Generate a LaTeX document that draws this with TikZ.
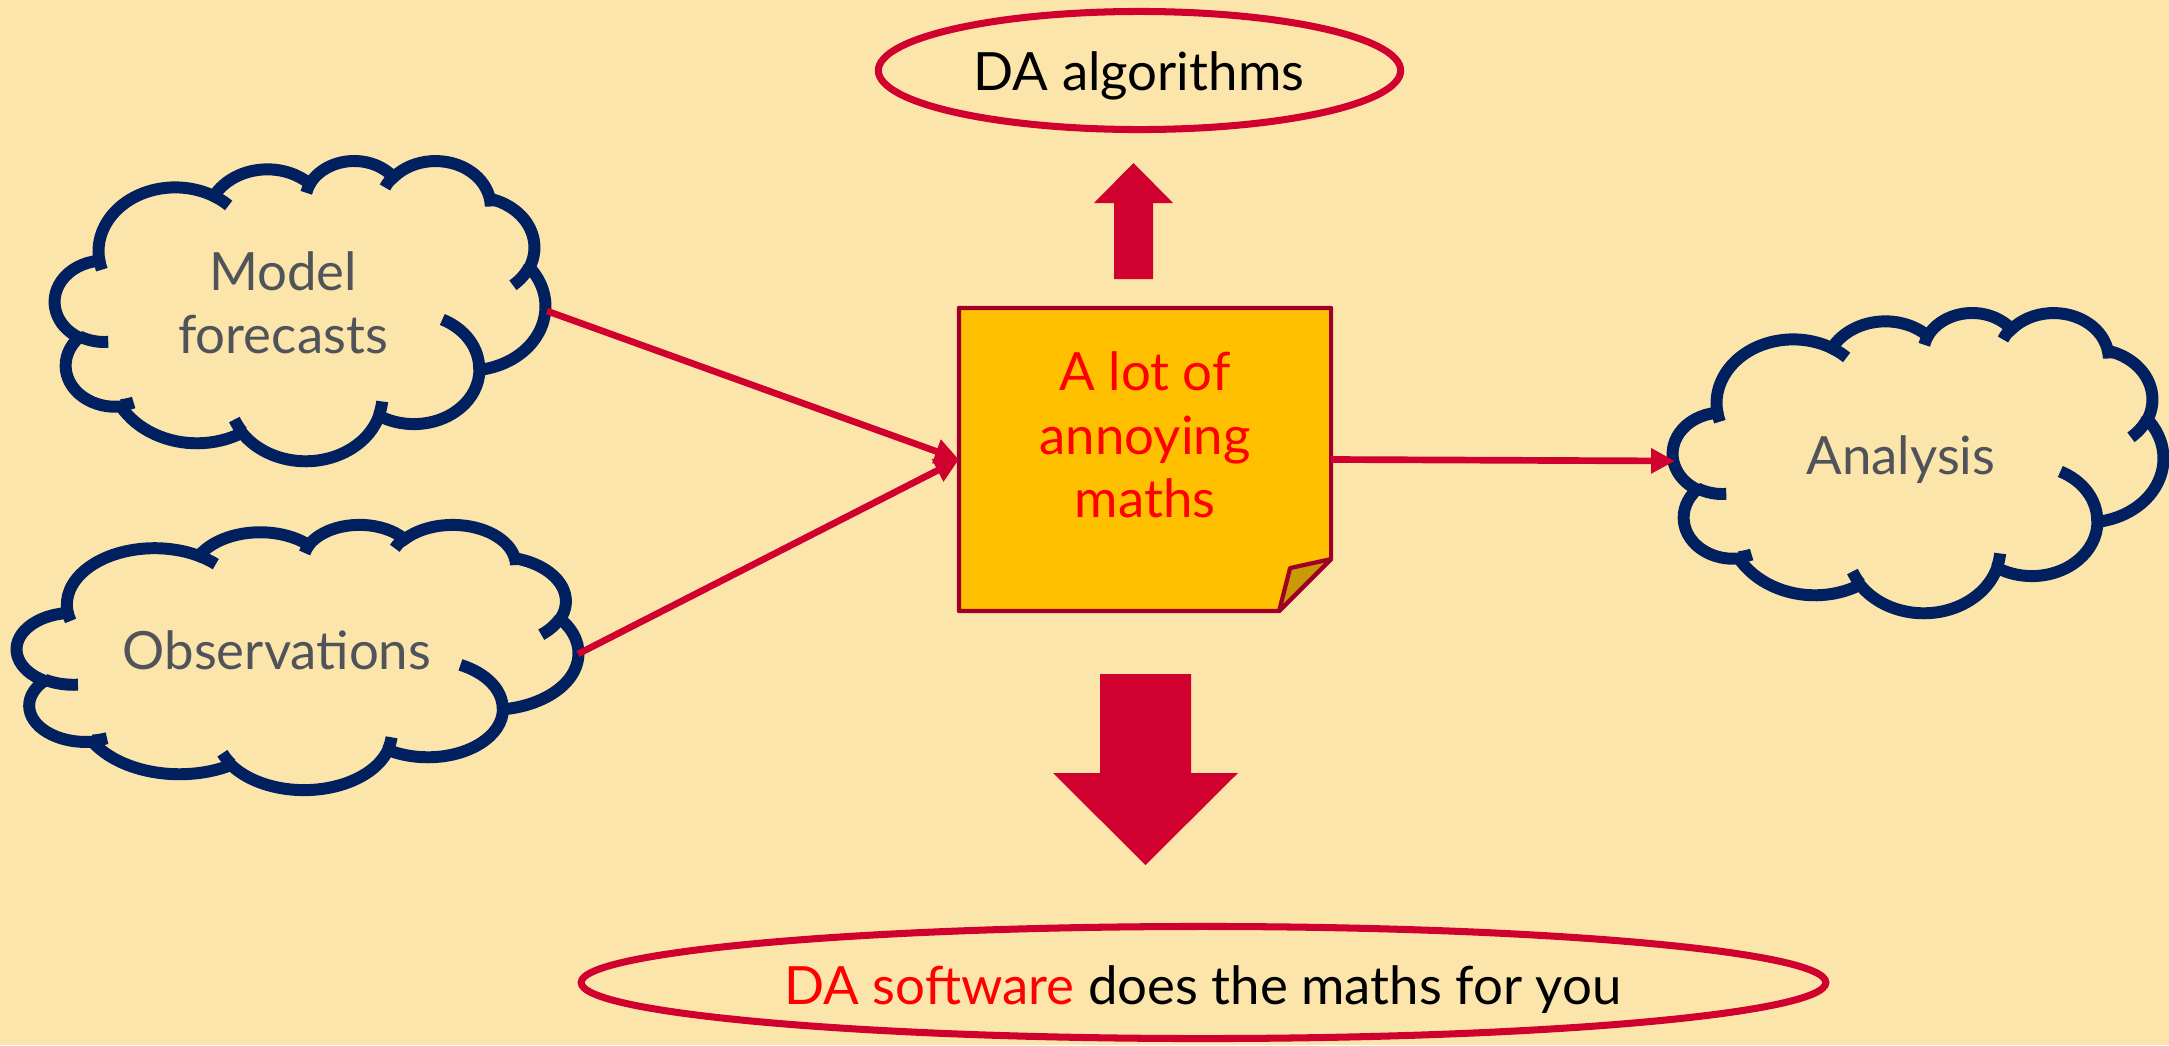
\documentclass[tikz,border=0pt]{standalone}
\usepackage{fontspec}
\setmainfont{Lato}
\usetikzlibrary{arrows.meta,shapes.geometric}
\definecolor{bgc}{HTML}{FCE5AA}
\definecolor{navy}{HTML}{002060}
\definecolor{crim}{HTML}{D0002F}
\definecolor{notefill}{HTML}{FFC000}
\definecolor{notedraw}{HTML}{A00028}
\definecolor{foldfill}{HTML}{C99A06}
\definecolor{cloudtext}{HTML}{50545A}
\definecolor{txtred}{HTML}{FF0000}

% elliptical arc with DrawingML-style (visual) angles
\newcommand\carc[4]{arc[x radius=#1, y radius=#2,
  start angle={(#3)+mod(atan2((#1)*sin(#3),(#2)*cos(#3))-(#3)+900,360)-180},
  end angle={(#3)+(#4)+mod(atan2((#1)*sin((#3)+(#4)),(#2)*cos((#3)+(#4)))-((#3)+(#4))+900,360)-180}]}

\newcommand\mycloud[4]{%
  \pgfmathsetmacro\cldx{#3/4320}%
  \pgfmathsetmacro\cldy{#4/4320}%
  \begin{scope}[shift={(#1,#2)}, x=\cldx cm, y=-\cldy cm]
    \draw[cloudline, fill=bgc] (3.900,14.370)
      \carc{6.753}{9.190}{-190.4875}{123.7805}
      \carc{5.333}{7.267}{-144.1024}{89.9452}
      \carc{4.365}{5.945}{-145.8079}{99.7230}
      \carc{4.857}{6.595}{-130.9861}{117.2417}
      \carc{5.333}{7.273}{-78.7089}{109.0269}
      \carc{6.775}{9.220}{-46.2673}{130.2690}
      \carc{5.785}{7.867}{0.6250}{114.0333}
      \carc{6.752}{9.215}{22.4516}{115.1726}
      \carc{7.720}{10.543}{66.2426}{75.7110}
      \carc{4.360}{5.918}{-274.9421}{146.7356}
      \carc{4.345}{5.945}{-246.8285}{152.5303}
      -- cycle;
    \draw[cloudline]
      (4.693,26.177) \carc{4.345}{5.945}{86.7420}{26.4295}
      (6.928,34.899) \carc{4.360}{5.918}{73.6105}{11.4475}
      (16.478,39.090) \carc{6.752}{9.215}{137.6242}{14.0811}
      (28.827,34.751) \carc{6.752}{9.215}{6.4533}{15.9984}
      (34.129,22.954) \carc{5.785}{7.867}{-70.2924}{70.9174}
      (41.798,15.354) \carc{5.333}{7.273}{30.3180}{27.7515}
      (38.324,5.426) \carc{4.857}{6.595}{-13.7443}{14.8589}
      (29.078,3.952) \carc{4.857}{6.595}{-149.1815}{18.1954}
      (22.141,4.720) \carc{4.365}{5.945}{-163.4943}{17.6864}
      (14.000,5.192) \carc{6.753}{9.190}{-66.7070}{12.3194}
      (4.127,15.789) \carc{6.753}{9.190}{157.6544}{11.8582};
  \end{scope}}

\tikzset{
  cloudline/.style={draw=navy, line width=3.4pt, miter limit=4},
  cloudlabel/.style={text=cloudtext, align=center, inner sep=0pt},
  conn/.style={draw=crim, line width=1.9pt, -{Triangle[length=6.8pt,width=6.8pt]}},
  blockarrow/.style={fill=crim},
  ovalbox/.style={ellipse, draw=crim, line width=2pt, inner sep=0pt},
}

\begin{document}
\begin{tikzpicture}[x=0.01cm, y=-0.01cm, font=\fontsize{15pt}{18pt}\selectfont]
\useasboundingbox (0,0) rectangle (2169,1045);
\fill[bgc] (0,0) rectangle (2169,1045);

% clouds
\mycloud{55}{160}{490}{300}
\mycloud{17}{524}{561}{265}
\mycloud{1673}{312}{490}{300}
\node[cloudlabel] (mf) at (283,303) {Model\\forecasts};
\node[cloudlabel, anchor=base] (obs) at (277,669) {Observations};
\node[cloudlabel, anchor=base] (ana) at (1901,474) {Analysis};

% note with folded corner
\node[minimum width=3.72cm, minimum height=3.03cm, inner sep=0pt, outer sep=0pt] (note) at (1145,459.5) {};
\draw[draw=notedraw, line width=1.2pt, fill=notefill, line join=round]
  (note.north west) -- (note.north east) -- ([yshift=0.52cm]note.south east)
  -- ([xshift=-0.52cm]note.south east) -- (note.south west) -- cycle;
\draw[draw=notedraw, line width=1.2pt, fill=foldfill, line join=round]
  ([xshift=-0.52cm]note.south east) -- ([xshift=-0.41cm,yshift=0.43cm]note.south east)
  -- ([yshift=0.52cm]note.south east) -- cycle;
\node[text=txtred, align=center, inner sep=0pt] (notetxt) at (1145,435) {A lot of\\annoying\\maths};

% ovals
\node[ovalbox, minimum width=5.22cm, minimum height=1.18cm] (algo) at (1139.5,70.5) {};
\node[anchor=base, inner sep=0pt] (algotxt) at (1139,90) {DA algorithms};
\node[ovalbox, minimum width=12.44cm, minimum height=1.12cm] (soft) at (1203.5,982.5) {};
\node[anchor=base, inner sep=0pt] (softtxt) at (1203,1004) {\textcolor{txtred}{DA software} does the maths for you};

% block arrows
\fill[blockarrow] (1114,279) -- (1114,203) -- (1094,203) -- (1133.5,163) -- (1173,203) -- (1153,203) -- (1153,279) -- cycle;
\fill[blockarrow] (1100,674) -- (1191,674) -- (1191,773) -- (1238,773) -- (1145.5,865) -- (1053,773) -- (1100,773) -- cycle;

% connectors
\coordinate (mfout) at (547,311);
\coordinate (obsout) at (578,654);
\coordinate (anain) at (1675,461);
\draw[conn] (mfout) -- (note.west);
\draw[conn] (obsout) -- (note.west);
\draw[conn] (note.east) -- (anain);
\end{tikzpicture}
\end{document}
